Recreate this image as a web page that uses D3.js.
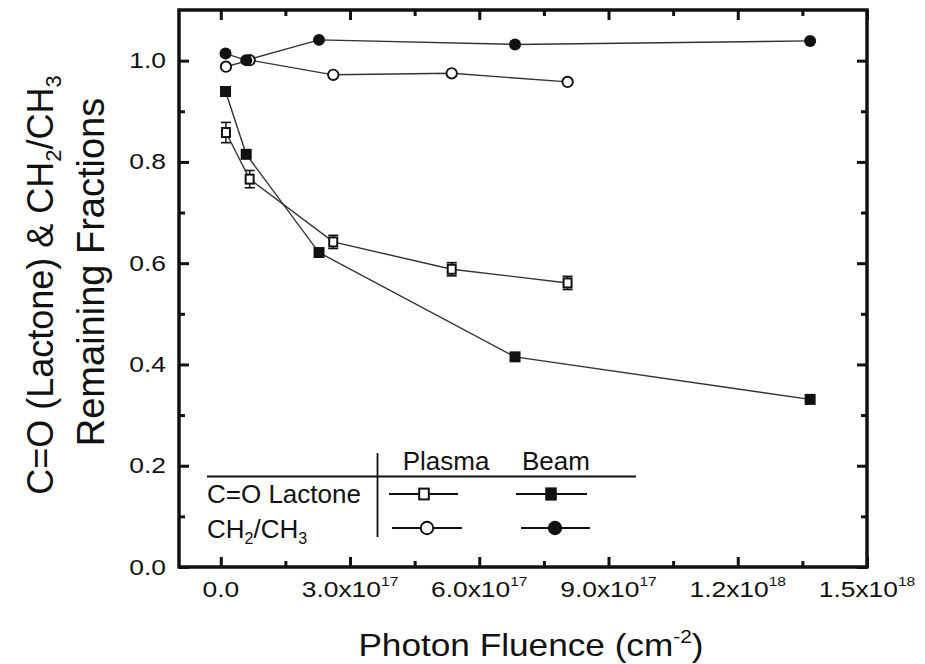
<!DOCTYPE html>
<html>
<head>
<meta charset="utf-8">
<script src="https://cdn.jsdelivr.net/npm/d3@7"></script>
<style>
  html, body { margin: 0; padding: 0; background: #fff; }
  svg { display: block; }
  text { font-family: "Liberation Sans", Arial, Helvetica, sans-serif; fill: #111; }
</style>
</head>
<body>
<svg id="chart" width="925" height="664"></svg>
<script>
// ---------------- DATA ----------------
const plasmaFluence = [1.2e16, 6.7e16, 2.61e17, 5.36e17, 8.05e17];
const beamFluence   = [1.1e16, 5.9e16, 2.28e17, 6.83e17, 1.368e18];

const coPlasma    = [0.858, 0.766, 0.642, 0.588, 0.561];
const coPlasmaErr = [0.020, 0.017, 0.013, 0.013, 0.013];
const coBeam      = [0.939, 0.815, 0.621, 0.415, 0.331];
const chPlasma    = [0.988, 1.001, 0.972, 0.975, 0.958];
const chBeam      = [1.014, 1.001, 1.041, 1.032, 1.039];

const xMajorTicks = [0, 3e17, 6e17, 9e17, 1.2e18, 1.5e18];
const xMinorTicks = [1.5e17, 4.5e17, 7.5e17, 1.05e18, 1.35e18];
const xTickMantissa = ["0.0", "3.0x10", "6.0x10", "9.0x10", "1.2x10", "1.5x10"];
const xTickExponent = ["", "17", "17", "17", "18", "18"];
const yMajorTicks = [0, 0.2, 0.4, 0.6, 0.8, 1.0];
const yMinorTicks = [0.1, 0.3, 0.5, 0.7, 0.9];
const yTickLabels = ["0.0", "0.2", "0.4", "0.6", "0.8", "1.0"];

const legendHeaders = ["Plasma", "Beam"];

// ---------------- LAYOUT ----------------
const svg = d3.select("#chart");
const L = 179, R = 867, T = 10, B = 567;
const x = d3.scaleLinear().domain([-0.97e17, 1.5e18]).range([L, R]);
const y = d3.scaleLinear().domain([0, 1.1]).range([B, T]);
const TS = 1.2; // horizontal text stretch

// ---------------- AXES ----------------
function styleAxis(g) {
  g.select(".domain").remove();
  g.selectAll(".tick line").attr("stroke", "#111").attr("stroke-width", 3);
  g.selectAll(".tick text").remove();
}
svg.append("g").attr("transform", `translate(0,${B})`)
  .call(d3.axisBottom(x).tickValues(xMajorTicks).tickSize(-10)).call(styleAxis);
svg.append("g").attr("transform", `translate(0,${B})`)
  .call(d3.axisBottom(x).tickValues(xMinorTicks).tickSize(-6)).call(styleAxis);
svg.append("g").attr("transform", `translate(0,${T})`)
  .call(d3.axisTop(x).tickValues(xMajorTicks).tickSize(-10)).call(styleAxis);
svg.append("g").attr("transform", `translate(0,${T})`)
  .call(d3.axisTop(x).tickValues(xMinorTicks).tickSize(-6)).call(styleAxis);
svg.append("g").attr("transform", `translate(${L},0)`)
  .call(d3.axisLeft(y).tickValues(yMajorTicks).tickSize(-10)).call(styleAxis);
svg.append("g").attr("transform", `translate(${L},0)`)
  .call(d3.axisLeft(y).tickValues(yMinorTicks).tickSize(-6)).call(styleAxis);
svg.append("g").attr("transform", `translate(${R},0)`)
  .call(d3.axisRight(y).tickValues(yMajorTicks).tickSize(-10)).call(styleAxis);
svg.append("g").attr("transform", `translate(${R},0)`)
  .call(d3.axisRight(y).tickValues(yMinorTicks).tickSize(-6)).call(styleAxis);

// frame
svg.append("rect").attr("x", L).attr("y", T).attr("width", R - L).attr("height", B - T)
  .attr("fill", "none").attr("stroke", "#111").attr("stroke-width", 3.5);

// x tick labels
xMajorTicks.forEach((v, i) => {
  const t = svg.append("text")
    .attr("transform", `translate(${x(v)},597) scale(${TS},1)`)
    .attr("text-anchor", "middle").attr("font-size", 22);
  t.append("tspan").text(xTickMantissa[i]);
  if (xTickExponent[i]) {
    t.append("tspan").attr("dy", -11).attr("font-size", 13).text(xTickExponent[i]);
  }
});
// y tick labels
yMajorTicks.forEach((v, i) => {
  svg.append("text")
    .attr("transform", `translate(166,${y(v) + 7.5}) scale(${TS},1)`)
    .attr("text-anchor", "end").attr("font-size", 22)
    .text(yTickLabels[i]);
});

// axis titles
const xt = svg.append("text")
  .attr("transform", `translate(531,656) scale(1.1,1)`)
  .attr("text-anchor", "middle").attr("font-size", 32);
xt.append("tspan").text("Photon Fluence (cm");
xt.append("tspan").attr("dy", -13).attr("font-size", 19).text("-2");
xt.append("tspan").attr("dy", 13).text(")");

const yt1 = svg.append("text")
  .attr("transform", `translate(53,285) rotate(-90)`)
  .attr("text-anchor", "middle").attr("font-size", 36);
yt1.append("tspan").text("C=O (Lactone) & CH");
yt1.append("tspan").attr("dy", 8).attr("font-size", 22).text("2");
yt1.append("tspan").attr("dy", -8).text("/CH");
yt1.append("tspan").attr("dy", 8).attr("font-size", 22).text("3");

svg.append("text")
  .attr("transform", `translate(104,272) rotate(-90)`)
  .attr("text-anchor", "middle").attr("font-size", 38)
  .text("Remaining Fractions");

// ---------------- SERIES ----------------
const line = d3.line().x(d => x(d[0])).y(d => y(d[1]));
const LINE_COLOR = "#333";
function pts(xs, ys) { return xs.map((v, i) => [v, ys[i]]); }

const seriesList = [
  { data: pts(plasmaFluence, chPlasma), marker: "openCircle" },
  { data: pts(beamFluence, chBeam), marker: "filledCircle" },
  { data: pts(plasmaFluence, coPlasma), marker: "openSquare", err: coPlasmaErr },
  { data: pts(beamFluence, coBeam), marker: "filledSquare" }
];

seriesList.forEach(s => {
  svg.append("path").datum(s.data).attr("d", line)
    .attr("fill", "none").attr("stroke", LINE_COLOR).attr("stroke-width", 1.4);
});

function drawMarker(g, type, cx, cy, big) {
  const k = big ? 1.2 : 1;
  if (type === "openCircle") {
    g.append("circle").attr("cx", cx).attr("cy", cy).attr("r", 5.2 * k)
      .attr("fill", "#fff").attr("stroke", "#111").attr("stroke-width", 1.9);
  } else if (type === "filledCircle") {
    g.append("circle").attr("cx", cx).attr("cy", cy).attr("r", 6 * k).attr("fill", "#111");
  } else if (type === "openSquare") {
    const w = 8 * k, h = 9 * k;
    g.append("rect").attr("x", cx - w / 2).attr("y", cy - h / 2).attr("width", w).attr("height", h)
      .attr("fill", "#fff").attr("stroke", "#111").attr("stroke-width", 2);
  } else if (type === "filledSquare") {
    const w = 11 * (big ? 1.05 : 1), h = 11 * (big ? 1.2 : 1);
    g.append("rect").attr("x", cx - w / 2).attr("y", cy - h / 2).attr("width", w).attr("height", h)
      .attr("fill", "#111");
  }
}

const markG = svg.append("g");
seriesList.forEach(s => {
  s.data.forEach((d, i) => {
    const cx = x(d[0]), cy = y(d[1]);
    if (s.err) {
      const e = s.err[i];
      markG.append("line").attr("x1", cx).attr("x2", cx).attr("y1", y(d[1] - e)).attr("y2", y(d[1] + e))
        .attr("stroke", "#111").attr("stroke-width", 1.4);
      [d[1] - e, d[1] + e].forEach(v => {
        markG.append("line").attr("x1", cx - 5).attr("x2", cx + 5).attr("y1", y(v)).attr("y2", y(v))
          .attr("stroke", "#111").attr("stroke-width", 1.6);
      });
    }
    drawMarker(markG, s.marker, cx, cy, false);
  });
});

// ---------------- LEGEND ----------------
const lg = svg.append("g");
lg.append("line").attr("x1", 207).attr("x2", 636).attr("y1", 476.5).attr("y2", 476.5)
  .attr("stroke", "#111").attr("stroke-width", 1.8);
lg.append("line").attr("x1", 377.5).attr("x2", 377.5).attr("y1", 453).attr("y2", 537)
  .attr("stroke", "#111").attr("stroke-width", 1.8);
lg.append("text").attr("x", 446).attr("y", 470).attr("text-anchor", "middle")
  .attr("font-size", 26).text(legendHeaders[0]);
lg.append("text").attr("x", 556).attr("y", 470).attr("text-anchor", "middle")
  .attr("font-size", 26).text(legendHeaders[1]);
lg.append("text").attr("x", 207).attr("y", 503).attr("font-size", 26).text("C=O Lactone");
const lt2 = lg.append("text").attr("x", 207).attr("y", 538).attr("font-size", 26);
lt2.append("tspan").text("CH");
lt2.append("tspan").attr("dy", 6).attr("font-size", 16).text("2");
lt2.append("tspan").attr("dy", -6).text("/CH");
lt2.append("tspan").attr("dy", 6).attr("font-size", 16).text("3");

const legendRows = [
  { y: 494, items: [{ x1: 389, x2: 458, cx: 424, m: "openSquare" }, { x1: 516, x2: 587, cx: 551, m: "filledSquare" }] },
  { y: 528, items: [{ x1: 392, x2: 462, cx: 427, m: "openCircle" }, { x1: 521, x2: 590, cx: 555, m: "filledCircle" }] }
];
legendRows.forEach(r => {
  r.items.forEach(it => {
    lg.append("line").attr("x1", it.x1).attr("x2", it.x2).attr("y1", r.y).attr("y2", r.y)
      .attr("stroke", "#111").attr("stroke-width", 2);
    drawMarker(lg, it.m, it.cx, r.y, true);
  });
});
</script>
</body>
</html>
